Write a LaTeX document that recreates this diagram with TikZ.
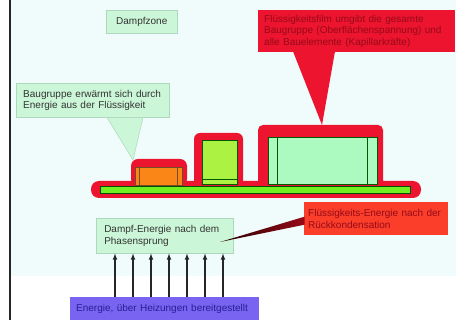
\documentclass[tikz,border=0pt]{standalone}
\usepackage{fontspec}
\setmainfont{Liberation Sans}
\usetikzlibrary{calc,positioning}

\definecolor{hintergrund}{RGB}{240,252,252}
\definecolor{minze}{RGB}{204,246,216}
\definecolor{minzrand}{RGB}{175,215,190}
\definecolor{filmrot}{RGB}{236,20,46}
\definecolor{textrot}{RGB}{150,10,25}
\definecolor{tomate}{RGB}{250,62,42}
\definecolor{heizblau}{RGB}{120,100,240}
\definecolor{textblau}{RGB}{40,30,150}
\definecolor{platine}{RGB}{112,240,32}
\definecolor{bauteilgelb}{RGB}{172,242,66}
\definecolor{bauteilgruen}{RGB}{172,250,192}
\definecolor{bauteilorange}{RGB}{250,134,24}

\begin{document}
\begin{tikzpicture}[x=1pt, y=-1pt,
    every node/.style={font=\fontsize{10}{11.5}\selectfont, anchor=north west, align=left, inner ysep=0pt},
    box/.style={draw=minzrand, fill=minze, line width=0.5pt, text=black!80},
    hull/.style={fill=filmrot, rounded corners=5pt},
    teil/.style={line width=0.5pt},
    pfeil/.style={-latex, line width=1.1pt, black!85}]
    \useasboundingbox (0,0) rectangle (456,320);
    \fill[hintergrund] (10,0) rectangle (456,276);
    \draw[line width=1.2pt, black!85] (10,0) -- (10,320);

    \fill[hull, rounded corners=8pt] (91,181) rectangle (421,198);
    \fill[hull, rounded corners=7pt] (131,159) rectangle (187,186);
    \fill[hull, rounded corners=6pt] (194,133) rectangle (243,186);
    \fill[hull] (258,125) rectangle (383,186);

    \filldraw[teil, fill=bauteilorange, draw=brown!60!black] (135,167) rectangle (182,185);
    \draw[teil, brown!60!black] (139,167) -- (139,185) (177,167) -- (177,185);
    \filldraw[teil, fill=bauteilgelb, draw=green!35!black] (202,140) rectangle (237,184);
    \draw[teil, green!35!black] (202,179) -- (237,179);
    \filldraw[teil, fill=bauteilgruen, draw=green!35!black] (268,137) rectangle (377,184);
    \draw[teil, green!35!black] (277,137) -- (277,184) (367,137) -- (367,184);
    \filldraw[teil, fill=platine, draw=green!30!black] (100,186) rectangle (410,193);

    \node[box, minimum width=71pt, minimum height=23pt, align=center, inner xsep=0pt] (dampfzone) at (106,10) {Dampfzone};

    \node[box, text width=139pt, inner xsep=7pt, minimum height=34pt] (baugruppe) at (16,83)
      {Baugruppe erwärmt sich durch\\Energie aus der Flüssigkeit};
    \coordinate (baugruppespitze) at (133,160);
    \fill[minze] ($(baugruppe.south west)+(91,0.4)$) -- (baugruppespitze) -- ($(baugruppe.south west)+(127,0.4)$) -- cycle;
    \draw[minzrand, line width=0.5pt] ($(baugruppe.south west)+(91,0)$) -- (baugruppespitze) -- ($(baugruppe.south west)+(127,0)$);

    \node[fill=filmrot, text=textrot, text width=185pt, inner xsep=6pt, minimum height=42pt] (film) at (258,10)
      {Flüssigkeitsfilm umgibt die gesamte\\Baugruppe (Oberflächenspannung) und\\alle Bauelemente (Kapillarkräfte)};
    \coordinate (filmspitze) at (322,125);
    \fill[filmrot] ($(film.south west)+(35,-1)$) -- (filmspitze) -- ($(film.south west)+(77,-1)$) -- cycle;

    \node[box, text width=121pt, inner xsep=8pt, minimum height=35pt] (dampfenergie) at (96,218)
      {Dampf-Energie nach dem\\Phasensprung};

    \node[fill=tomate, text=textrot, text width=136pt, inner xsep=4pt, minimum height=33pt] (rueck) at (304,202)
      {Flüssigkeits-Energie nach der\\Rückkondensation};
    \coordinate (rueckspitze) at (220,242);
    \shade[left color=black!85!red, right color=textrot] ($(rueck.west)+(0.5,-2)$) -- (rueckspitze) -- ($(rueck.west)+(0.5,6)$) -- cycle;

    \node[fill=heizblau, text=textblau, text width=177pt, inner xsep=6pt, minimum height=23pt] (heizung) at (70,297)
      {Energie, über Heizungen bereitgestellt};

    \foreach \x in {115,133,...,223} {
      \draw[pfeil] (\x,0 |- heizung.north) -- (\x,0 |- dampfenergie.south);
    };
\end{tikzpicture}
\end{document}
